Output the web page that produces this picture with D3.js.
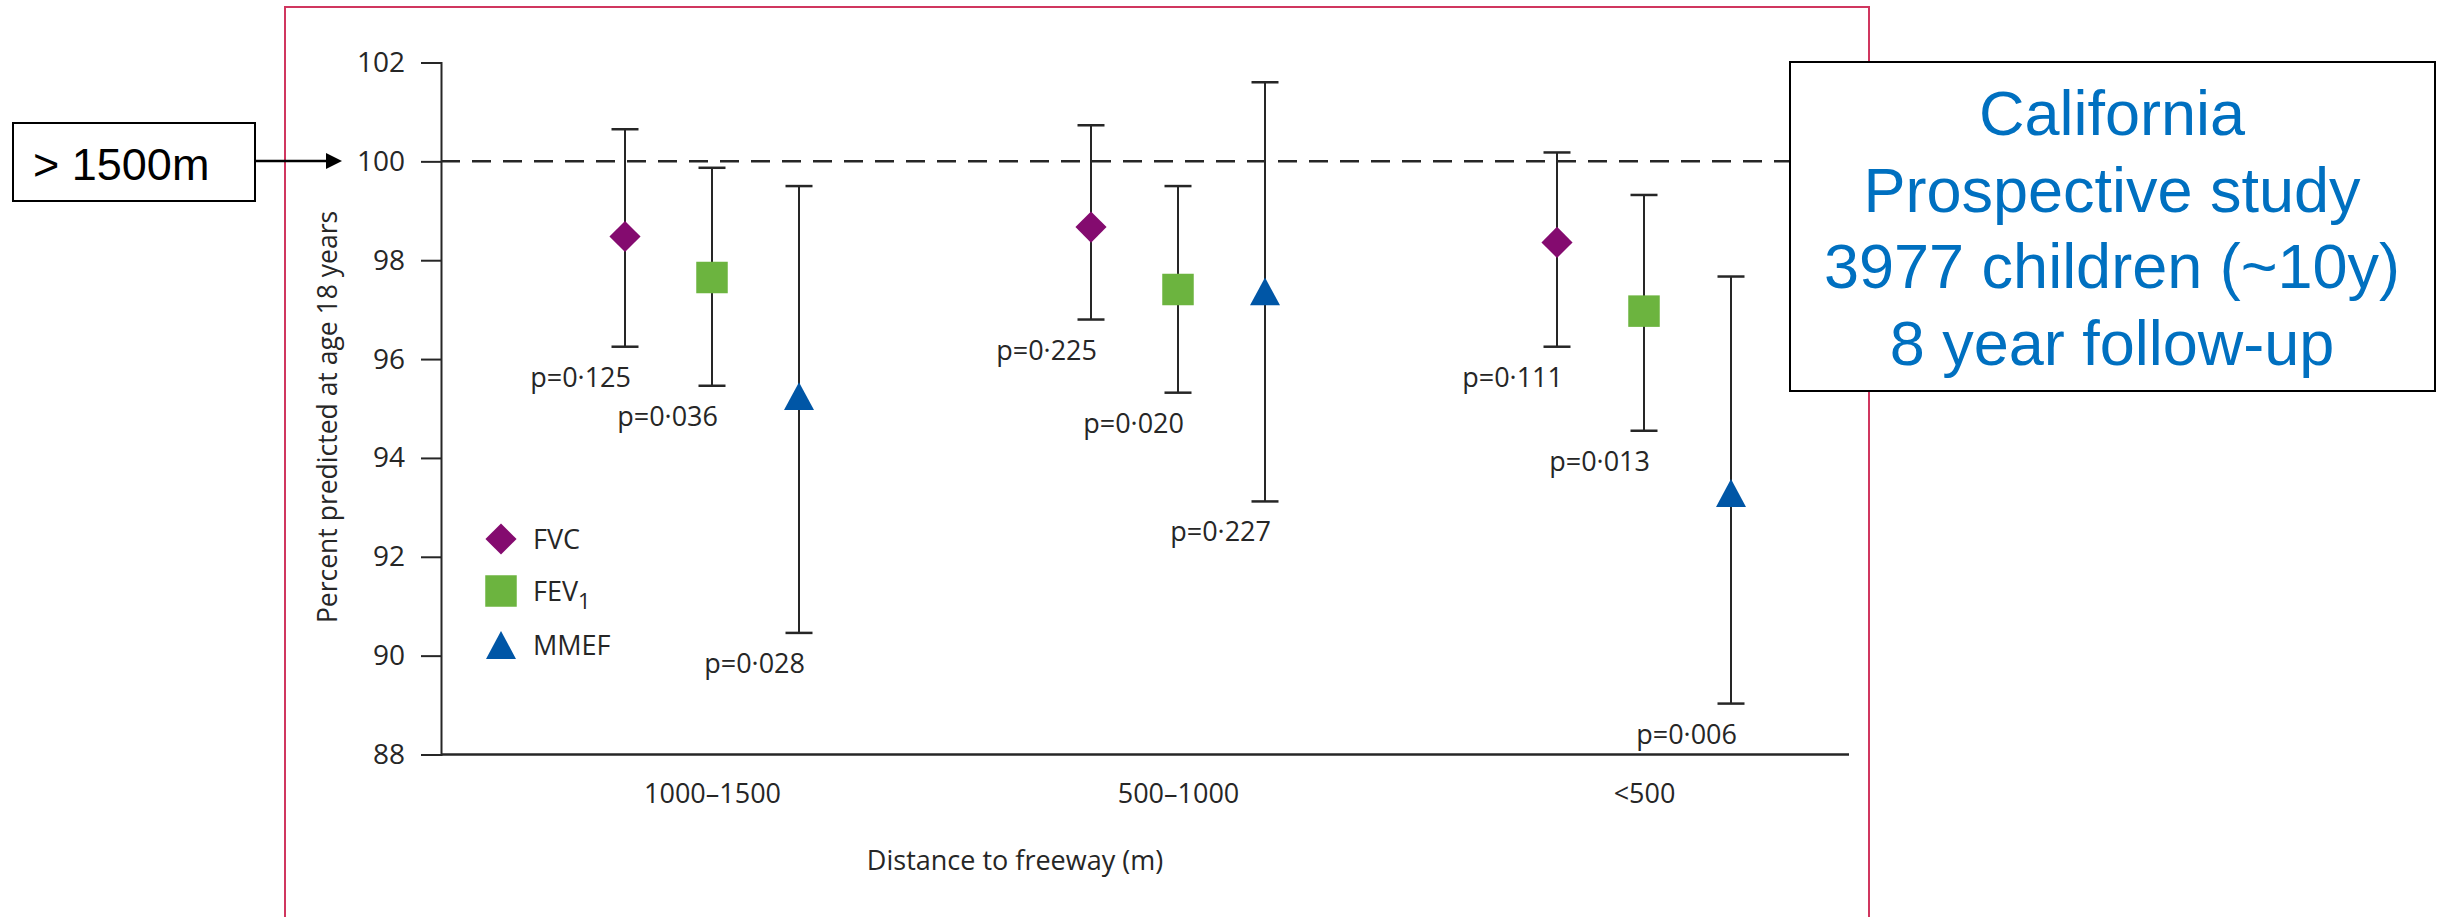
<!DOCTYPE html>
<html>
<head>
<meta charset="utf-8">
<script src="https://cdn.jsdelivr.net/npm/d3@7"></script>
<style>
  body { margin: 0; background: #fff; }
  svg { display: block; }
</style>
</head>
<body>
<svg id="chart" width="2440" height="917"></svg>
<script>
// categories on the x axis
const categories = ['1000–1500', '500–1000', '<500'];
const seriesNames = ['FVC', 'FEV1', 'MMEF'];

// values (percent predicted at 18y)
const fvcEst = [98.48, 98.67, 98.36];
const fvcLow = [96.25, 96.80, 96.25];
const fvcHigh = [100.65, 100.73, 100.18];
const fvcP = ['p=0·125', 'p=0·225', 'p=0·111'];

const fev1Est = [97.65, 97.41, 96.97];
const fev1Low = [95.46, 95.32, 94.55];
const fev1High = [99.87, 99.50, 99.32];
const fev1P = ['p=0·036', 'p=0·020', 'p=0·013'];

const mmefEst = [95.25, 97.37, 93.29];
const mmefLow = [90.46, 93.12, 89.03];
const mmefHigh = [99.50, 101.60, 97.67];
const mmefP = ['p=0·028', 'p=0·227', 'p=0·006'];

const yTicks = [88, 90, 92, 94, 96, 98, 100, 102];
const reference = 100;

const infoLines = ['California', 'Prospective study', '3977 children (~10y)', '8 year follow-up'];

// ---- layout
const plotLeft = 441, plotRight = 1849, plotTop = 62.5, plotBottom = 754.5;
const chartFont = '"Open Sans", "Noto Sans", sans-serif';
const ink = '#262626';
const colors = { FVC: '#840B6F', FEV1: '#6CB43F', MMEF: '#0056A6' };

const svg = d3.select('#chart');

const y = d3.scaleLinear().domain([88, 102]).range([plotBottom, plotTop]);
const x = d3.scalePoint().domain(categories).range([plotLeft + 271, plotRight - 205]);
const xSeries = d3.scalePoint().domain(seriesNames).range([-87, 87]);

const rows = [];
const tables = {
    FVC: [fvcEst, fvcLow, fvcHigh, fvcP],
    FEV1: [fev1Est, fev1Low, fev1High, fev1P],
    MMEF: [mmefEst, mmefLow, mmefHigh, mmefP]
};
seriesNames.forEach(s => {
    const [est, lo, hi, p] = tables[s];
    categories.forEach((c, i) => {
        rows.push({ series: s, cat: c, est: est[i], lo: lo[i], hi: hi[i], p: p[i] });
    });
});

// triangle a bit taller than equilateral, centred on its box
const wideTriangle = {
    draw(ctx, size) {
        const w = Math.sqrt(size) * 1.5, h = w * 0.93;
        ctx.moveTo(0, -h / 2);
        ctx.lineTo(w / 2, h / 2);
        ctx.lineTo(-w / 2, h / 2);
        ctx.closePath();
    }
};
const markerPath = {
    FVC: d3.symbol().type(d3.symbolSquare).size(22 * 22)(),
    FEV1: d3.symbol().type(d3.symbolSquare).size(31.5 * 31.5)(),
    MMEF: d3.symbol().type(wideTriangle).size(400)()
};
const markerRotate = { FVC: 45, FEV1: 0, MMEF: 0 };

// ---- red frame
svg.append('rect')
    .attr('x', 285).attr('y', 7)
    .attr('width', 1584).attr('height', 940)
    .attr('fill', 'none')
    .attr('stroke', '#D0365F')
    .attr('stroke-width', 2);

// ---- axes
const yAxis = svg.append('g')
    .attr('transform', `translate(${plotLeft},0)`)
    .call(d3.axisLeft(y).tickValues(yTicks).tickSize(20).tickPadding(16));
yAxis.selectAll('path, line').attr('stroke', ink).attr('stroke-width', 2);
yAxis.selectAll('text')
    .attr('font-family', chartFont)
    .attr('font-size', 28)
    .attr('fill', ink);

svg.append('line')
    .attr('x1', plotLeft).attr('x2', plotRight)
    .attr('y1', plotBottom).attr('y2', plotBottom)
    .attr('stroke', ink).attr('stroke-width', 2.5);

const xAxis = svg.append('g')
    .attr('transform', `translate(0,${plotBottom})`)
    .call(d3.axisBottom(x).tickSize(0).tickPadding(29));
xAxis.select('.domain').remove();
xAxis.selectAll('text')
    .attr('font-family', chartFont)
    .attr('font-size', 27)
    .attr('fill', ink);

svg.append('text')
    .attr('x', 1015).attr('y', 870)
    .attr('text-anchor', 'middle')
    .attr('font-family', chartFont)
    .attr('font-size', 27)
    .attr('fill', ink)
    .text('Distance to freeway (m)');

svg.append('text')
    .attr('transform', 'translate(337,417) rotate(-90)')
    .attr('text-anchor', 'middle')
    .attr('font-family', chartFont)
    .attr('font-size', 26.5)
    .attr('fill', ink)
    .text('Percent predicted at age 18 years');

// ---- reference line at 100
svg.append('line')
    .attr('x1', plotLeft).attr('x2', 1869)
    .attr('y1', y(reference)).attr('y2', y(reference))
    .attr('stroke', ink)
    .attr('stroke-width', 2.5)
    .attr('stroke-dasharray', '19,12');

// ---- error bars
const px = d => x(d.cat) + xSeries(d.series);
const bars = svg.append('g').selectAll('g').data(rows).enter().append('g');
bars.append('line')
    .attr('x1', px).attr('x2', px)
    .attr('y1', d => y(d.hi)).attr('y2', d => y(d.lo))
    .attr('stroke', ink).attr('stroke-width', 2);
bars.append('line')
    .attr('x1', d => px(d) - 13.5).attr('x2', d => px(d) + 13.5)
    .attr('y1', d => y(d.hi)).attr('y2', d => y(d.hi))
    .attr('stroke', ink).attr('stroke-width', 2.5);
bars.append('line')
    .attr('x1', d => px(d) - 13.5).attr('x2', d => px(d) + 13.5)
    .attr('y1', d => y(d.lo)).attr('y2', d => y(d.lo))
    .attr('stroke', ink).attr('stroke-width', 2.5);
bars.append('path')
    .attr('d', d => markerPath[d.series])
    .attr('transform', d => `translate(${px(d)},${y(d.est)}) rotate(${markerRotate[d.series]})`)
    .attr('fill', d => colors[d.series]);
bars.append('text')
    .attr('x', d => px(d) + 6)
    .attr('y', d => y(d.lo) + 40)
    .attr('text-anchor', 'end')
    .attr('font-family', chartFont)
    .attr('font-size', 27)
    .attr('fill', ink)
    .text(d => d.p);

// ---- legend
const legend = svg.append('g').attr('transform', 'translate(501,539)');
const legendItems = legend.selectAll('g').data(seriesNames).enter().append('g')
    .attr('transform', (d, i) => `translate(0,${[0, 52, 106][i]})`);
legendItems.append('path')
    .attr('d', d => markerPath[d])
    .attr('transform', d => `rotate(${markerRotate[d]})`)
    .attr('fill', d => colors[d]);
const legendText = legendItems.append('text')
    .attr('x', 32).attr('y', 10)
    .attr('font-family', chartFont)
    .attr('font-size', 27)
    .attr('fill', ink);
legendText.each(function (d) {
    const t = d3.select(this);
    if (d === 'FEV1') {
        t.append('tspan').text('FEV');
        t.append('tspan').attr('dy', 8).attr('font-size', 22).text('1');
    } else {
        t.text(d);
    }
});

// ---- annotation: > 1500m
svg.append('rect')
    .attr('x', 13).attr('y', 123)
    .attr('width', 242).attr('height', 78)
    .attr('fill', '#fff')
    .attr('stroke', '#000').attr('stroke-width', 2);
svg.append('text')
    .attr('x', 33).attr('y', 180)
    .attr('font-family', '"Liberation Sans", Arial, sans-serif')
    .attr('font-size', 45)
    .attr('fill', '#000')
    .text('> 1500m');
svg.append('line')
    .attr('x1', 255).attr('x2', 328)
    .attr('y1', 161).attr('y2', 161)
    .attr('stroke', '#000').attr('stroke-width', 2.5);
svg.append('path')
    .attr('d', 'M326,153L342,161L326,169Z')
    .attr('fill', '#000');

// ---- annotation: study box
svg.append('rect')
    .attr('x', 1790).attr('y', 62)
    .attr('width', 645).attr('height', 329)
    .attr('fill', '#fff')
    .attr('stroke', '#000').attr('stroke-width', 2);
svg.append('g').selectAll('text').data(infoLines).enter().append('text')
    .attr('x', 2112)
    .attr('y', (d, i) => 135 + i * 76.5)
    .attr('text-anchor', 'middle')
    .attr('font-family', '"Liberation Sans", Arial, sans-serif')
    .attr('font-size', 63)
    .attr('fill', '#0070C0')
    .text(d => d);
</script>
</body>
</html>
